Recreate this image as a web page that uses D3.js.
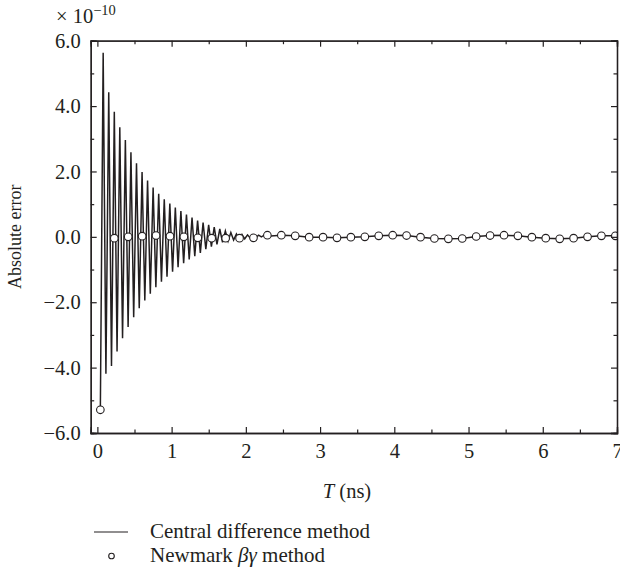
<!DOCTYPE html>
<html>
<head>
<meta charset="utf-8">
<script src="https://cdnjs.cloudflare.com/ajax/libs/d3/7.8.5/d3.min.js"></script>
<style>
  html, body { margin: 0; padding: 0; background: #fff; }
  svg { display: block; }
  text { font-family: 'Liberation Serif', 'Times New Roman', serif; fill: #231f20; }
</style>
</head>
<body>
<div id="chart"></div>
<script>
/* Absolute error vs time — central difference vs Newmark beta-gamma */
(function () {
  'use strict';

  // Central difference: local maxima / minima of the fast oscillation (x 1e-10)
  const MAX_T = [0.078, 0.153, 0.228, 0.302, 0.377, 0.452, 0.527, 0.602, 0.676, 0.751,
                 0.826, 0.901, 0.976, 1.050, 1.125, 1.200, 1.275, 1.350, 1.424, 1.499,
                 1.574, 1.649, 1.724, 1.798, 1.873, 1.948, 2.023, 2.098, 2.172, 2.247];
  const MAX_V = [5.63, 4.42, 3.83, 3.35, 2.96, 2.59, 2.25, 1.98, 1.72, 1.51,
                 1.32, 1.15, 1.02, 0.90, 0.79, 0.68, 0.59, 0.50, 0.44, 0.37,
                 0.30, 0.24, 0.18, 0.13, 0.09, 0.07, 0.06, 0.05, 0.05, 0.05];
  const MIN_T = [0.115, 0.190, 0.265, 0.339, 0.414, 0.489, 0.564, 0.639, 0.713, 0.788,
                 0.863, 0.938, 1.013, 1.087, 1.162, 1.237, 1.312, 1.387, 1.461, 1.536,
                 1.611, 1.686, 1.761, 1.835, 1.910, 1.985, 2.060, 2.135, 2.209, 2.284];
  const MIN_V = [-4.19, -3.95, -3.51, -3.10, -2.76, -2.46, -2.18, -1.95, -1.74, -1.54,
                 -1.37, -1.22, -1.07, -0.93, -0.81, -0.69, -0.59, -0.49, -0.38, -0.30,
                 -0.23, -0.17, -0.13, -0.10, -0.08, -0.06, -0.04, -0.02, 0.00, 0.02];

  // Newmark beta-gamma samples
  const NM_T = [0.040, 0.228, 0.415, 0.603, 0.790, 0.978, 1.165, 1.353, 1.540, 1.728,
                1.915, 2.103, 2.290, 2.478, 2.665, 2.853, 3.040, 3.228, 3.415, 3.603,
                3.790, 3.978, 4.165, 4.353, 4.540, 4.728, 4.915, 5.103, 5.290, 5.478,
                5.665, 5.853, 6.040, 6.228, 6.415, 6.603, 6.790, 6.978];
  const NM_V = [-5.29, -0.04, 0.00, 0.02, 0.04, 0.02, 0.00, -0.03, -0.04, -0.04,
                -0.04, -0.03, 0.05, 0.05, 0.03, -0.01, -0.01, -0.03, -0.01, 0.00,
                0.03, 0.05, 0.04, -0.01, -0.05, -0.06, -0.05, 0.01, 0.04, 0.05,
                0.03, -0.01, -0.04, -0.06, -0.04, 0.00, 0.03, 0.03];

  const X_TICKS = [0, 1, 2, 3, 4, 5, 6, 7];
  const X_MINOR = [0.5, 1.5, 2.5, 3.5, 4.5, 5.5, 6.5];
  const Y_TICKS = [-6, -4, -2, 0, 2, 4, 6];
  const Y_MINOR = [-5, -3, -1, 1, 3, 5];

  const LEGEND = ['Central difference method', 'Newmark '];

  const W = 620, H = 569;
  const plot = { left: 90.7, right: 617, top: 40.7, bottom: 433 };
  const INK = '#231f20';
  const FS = 20.5;

  const svg = d3.select('#chart').append('svg')
    .attr('width', W).attr('height', H)
    .attr('viewBox', `0 0 ${W} ${H}`);

  const x = d3.scaleLinear().domain([-0.09, 7.0]).range([plot.left, plot.right]);
  const y = d3.scaleLinear().domain([-6, 6]).range([plot.bottom, plot.top]);

  svg.append('defs').append('clipPath').attr('id', 'clip')
    .append('rect')
    .attr('x', plot.left).attr('y', plot.top)
    .attr('width', plot.right - plot.left).attr('height', plot.bottom - plot.top);

  // build the central difference polyline from the extrema + the slow tail
  const peaks = [];
  MAX_T.forEach((t, i) => peaks.push([t, MAX_V[i]]));
  MIN_T.forEach((t, i) => peaks.push([t, MIN_V[i]]));
  peaks.sort((a, b) => a[0] - b[0]);
  const cdLine = [[NM_T[0], NM_V[0]]].concat(peaks);
  NM_T.forEach((t, i) => { if (t > 2.4) cdLine.push([t, NM_V[i]]); });

  const g = svg.append('g').attr('clip-path', 'url(#clip)');

  g.append('path')
    .datum(cdLine)
    .attr('fill', 'none')
    .attr('stroke', INK)
    .attr('stroke-width', 1.5)
    .attr('stroke-linejoin', 'miter')
    .attr('d', d3.line().x(d => x(d[0])).y(d => y(d[1])));

  g.selectAll('circle.nm')
    .data(NM_T.map((t, i) => [t, NM_V[i]]))
    .join('circle')
    .attr('class', 'nm')
    .attr('cx', d => x(d[0])).attr('cy', d => y(d[1]))
    .attr('r', 3.8)
    .attr('fill', '#fff')
    .attr('stroke', INK)
    .attr('stroke-width', 1.1);

  // --- axes: box frame, inward ticks on all four sides ---
  const fmt = v => d3.format('.1f')(v).replace('-', '\u2212');

  const axB = svg.append('g').attr('transform', `translate(0,${plot.bottom})`)
    .call(d3.axisBottom(x).tickValues(X_TICKS).tickSize(-6).tickPadding(11).tickFormat(d3.format('d')));
  svg.append('g').attr('transform', `translate(0,${plot.bottom})`)
    .call(d3.axisBottom(x).tickValues(X_MINOR).tickSize(-3.5).tickFormat(''));
  svg.append('g').attr('transform', `translate(0,${plot.top})`)
    .call(d3.axisTop(x).tickValues(X_TICKS).tickSize(-6).tickFormat(''));
  svg.append('g').attr('transform', `translate(0,${plot.top})`)
    .call(d3.axisTop(x).tickValues(X_MINOR).tickSize(-3.5).tickFormat(''));

  svg.append('g').attr('transform', `translate(${plot.left},0)`)
    .call(d3.axisLeft(y).tickValues(Y_TICKS).tickSize(-6).tickPadding(10).tickFormat(fmt));
  svg.append('g').attr('transform', `translate(${plot.left},0)`)
    .call(d3.axisLeft(y).tickValues(Y_MINOR).tickSize(-3.5).tickFormat(''));
  svg.append('g').attr('transform', `translate(${plot.right},0)`)
    .call(d3.axisRight(y).tickValues(Y_TICKS).tickSize(-6).tickFormat(''));
  svg.append('g').attr('transform', `translate(${plot.right},0)`)
    .call(d3.axisRight(y).tickValues(Y_MINOR).tickSize(-3.5).tickFormat(''));

  svg.selectAll('.domain').attr('stroke', INK).attr('stroke-width', 1.3);
  svg.selectAll('.tick line').attr('stroke', INK).attr('stroke-width', 1.2);
  svg.selectAll('.tick text')
    .attr('font-family', "'Liberation Serif', serif")
    .attr('font-size', FS).attr('fill', INK);
  axB.selectAll('.tick text').attr('dy', '0.68em');

  // exponent label
  const ex = svg.append('text').attr('x', 56).attr('y', 23).attr('font-size', FS);
  ex.append('tspan').text('\u00d7 10');
  ex.append('tspan').attr('font-size', 14.5).attr('dy', -8).text('\u221210');

  // axis titles
  svg.append('text')
    .attr('transform', `translate(21,${(plot.top + plot.bottom) / 2}) rotate(-90)`)
    .attr('text-anchor', 'middle').attr('font-size', 18)
    .text('Absolute error');

  const xt = svg.append('text')
    .attr('x', 347).attr('y', 498)
    .attr('text-anchor', 'middle').attr('font-size', FS);
  xt.append('tspan').attr('font-style', 'italic').text('T');
  xt.append('tspan').text(' (ns)');

  // legend
  svg.append('line')
    .attr('x1', 94).attr('x2', 128).attr('y1', 532).attr('y2', 532)
    .attr('stroke', INK).attr('stroke-width', 1.1);
  svg.append('text').attr('x', 150).attr('y', 538).attr('font-size', 21).text(LEGEND[0]);

  svg.append('circle')
    .attr('cx', 111.5).attr('cy', 556).attr('r', 2.8)
    .attr('fill', '#fff').attr('stroke', INK).attr('stroke-width', 1.1);
  const lt = svg.append('text').attr('x', 150).attr('y', 562).attr('font-size', 21);
  lt.append('tspan').text(LEGEND[1]);
  lt.append('tspan').attr('font-style', 'italic').text('\u03b2\u03b3');
  lt.append('tspan').text(' method');
})();
</script>
</body>
</html>
